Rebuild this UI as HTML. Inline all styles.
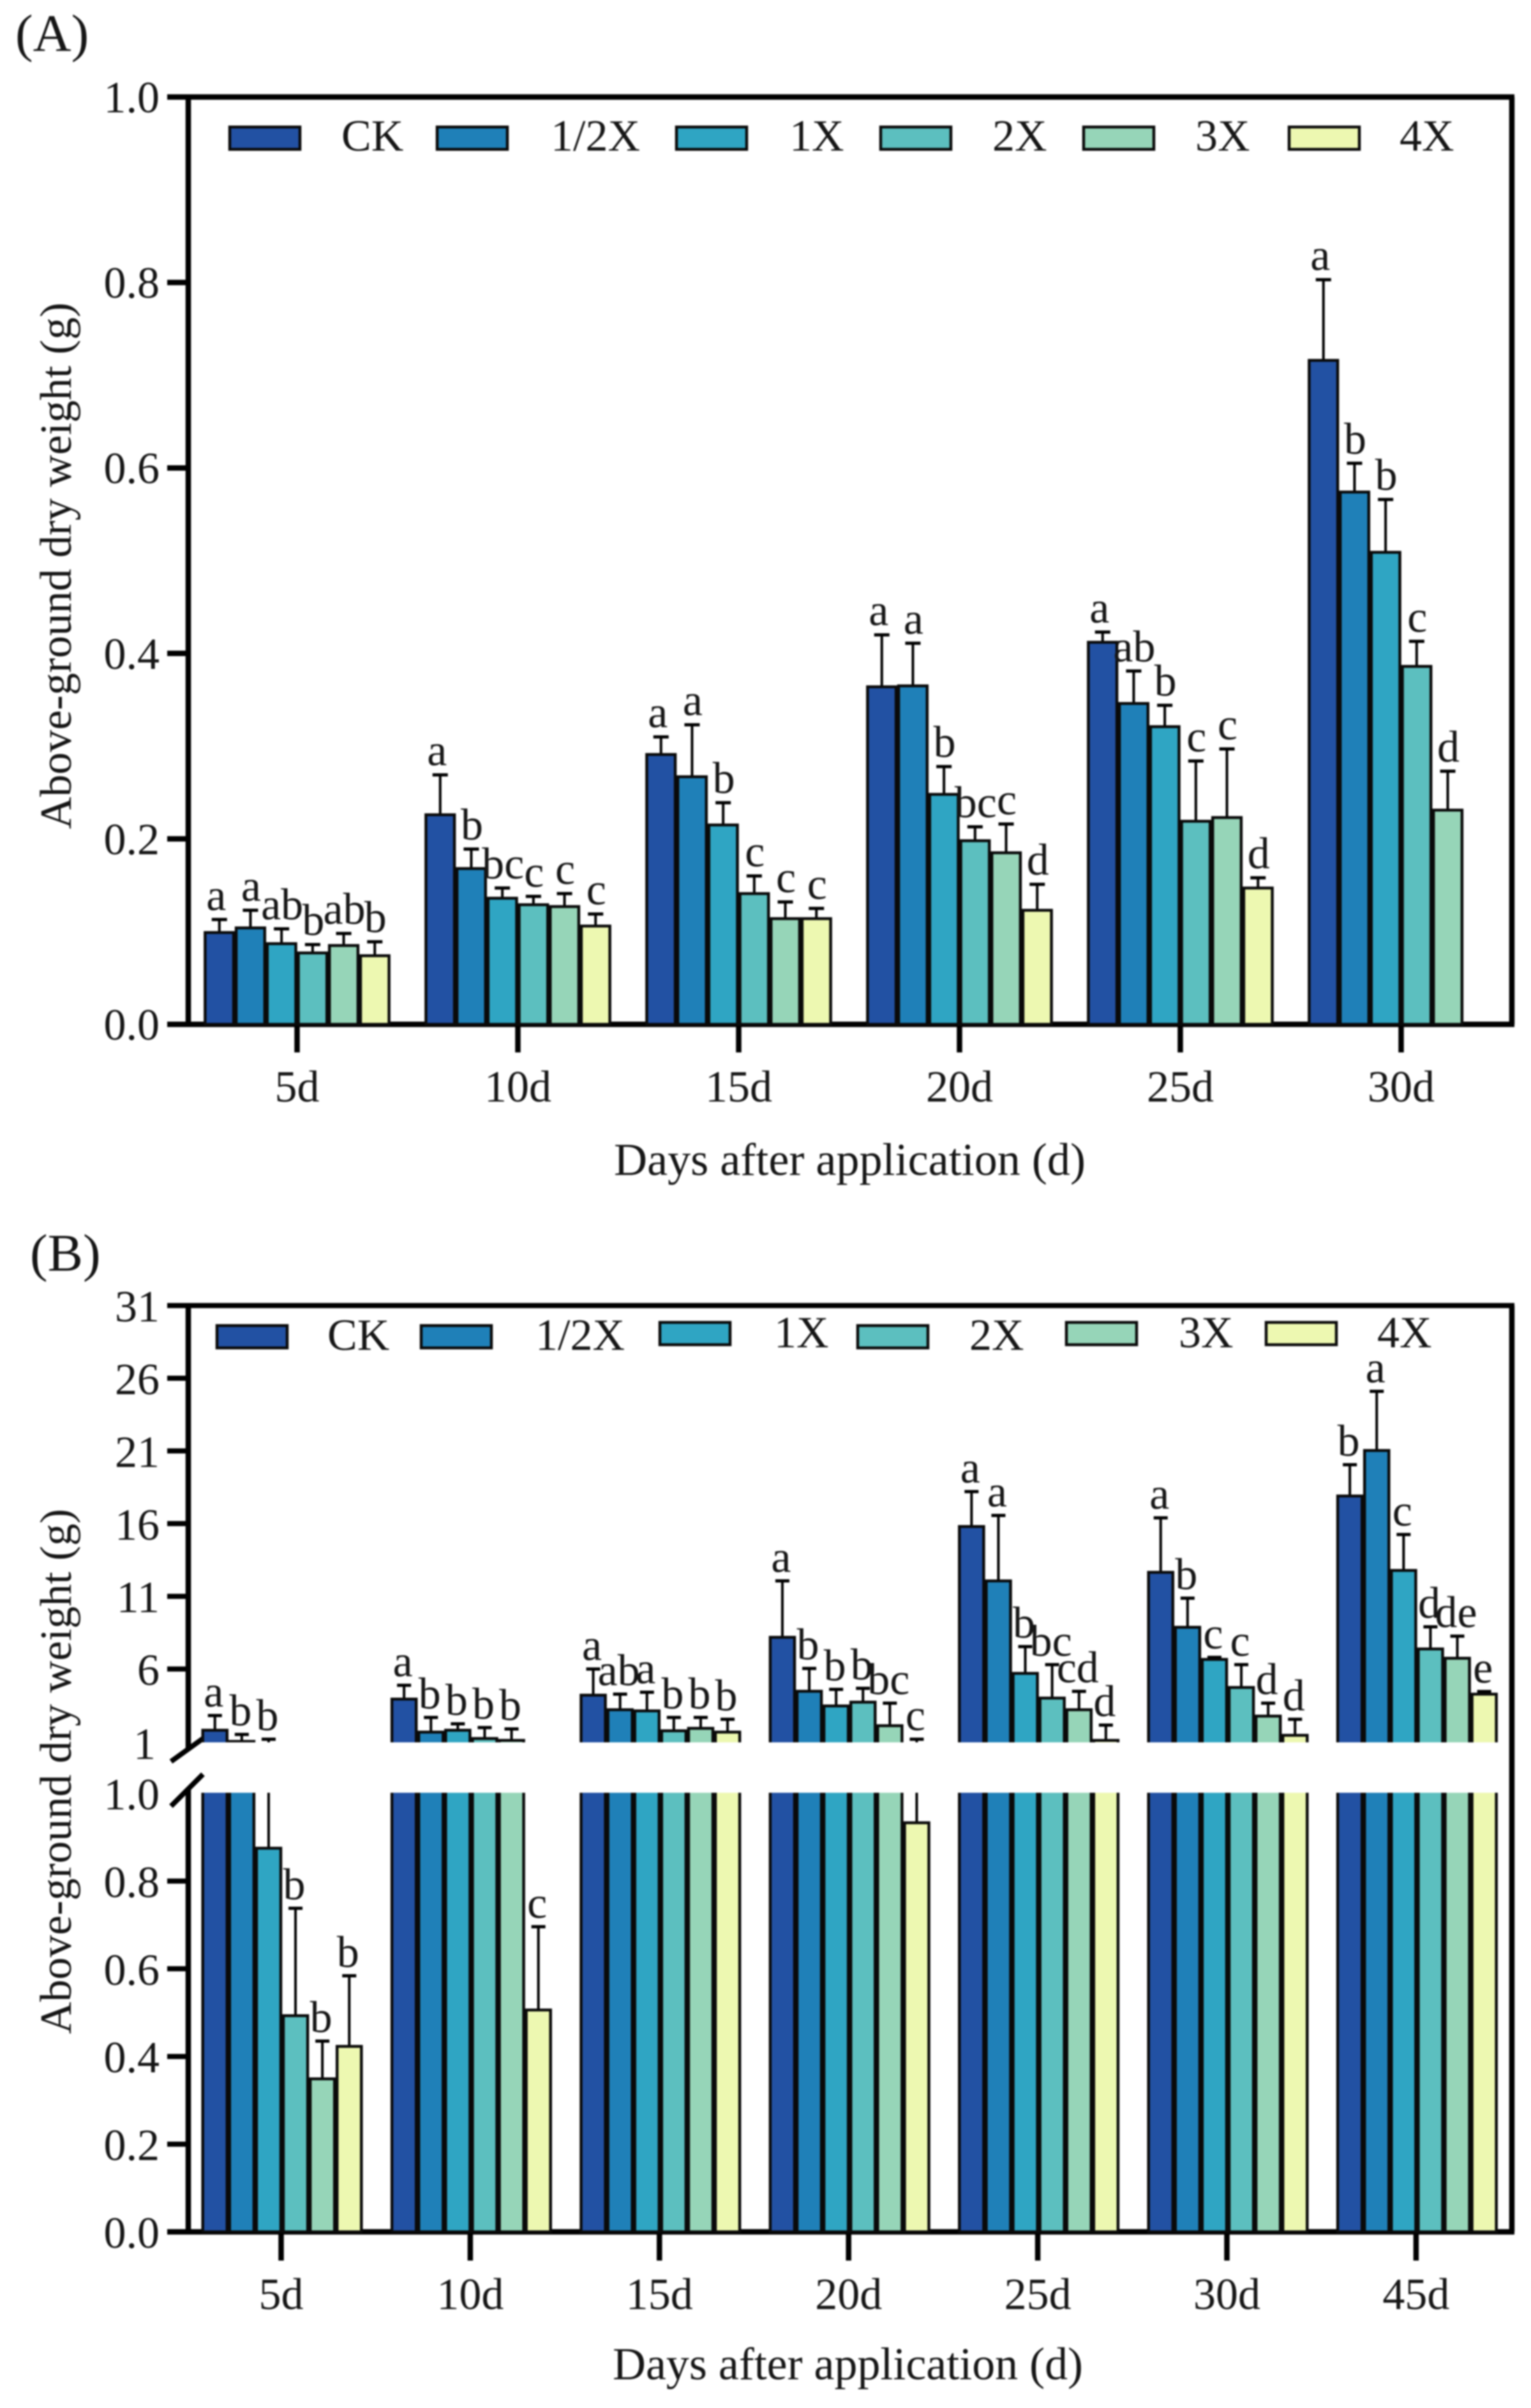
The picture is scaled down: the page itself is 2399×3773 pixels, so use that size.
<!DOCTYPE html>
<html lang="en">
<head>
<meta charset="utf-8">
<title>Above-ground dry weight bar charts</title>
<style>
html,body{margin:0;padding:0;background:#fff;}
#figure{display:block;filter:blur(1.3px);}
text{font-family:"Liberation Serif",serif;fill:#161616;font-size:70px;}
.sw{stroke:#0a0a0a;stroke-width:4.5;}
</style>
</head>
<body>
<svg id="figure" xmlns="http://www.w3.org/2000/svg" width="2399" height="3773" viewBox="0 0 2399 3773">
<rect x="0" y="0" width="2399" height="3773" fill="#fff"/>
<defs>
<clipPath id="clip-upper"><rect x="296" y="2040" width="2070" height="690"/></clipPath>
<clipPath id="clip-lower"><rect x="296" y="2809" width="2070" height="690"/></clipPath>
</defs>

<text x="24" y="80" style="font-size:83px">(A)</text>
<g id="panel-a"></g>
<text x="962" y="1841" textLength="739" lengthAdjust="spacingAndGlyphs" style="font-size:72px">Days after application (d)</text>
<text transform="translate(111,1299) rotate(-90)" x="0" y="0" textLength="825" lengthAdjust="spacingAndGlyphs">Above-ground dry weight (g)</text>
<g>
<g><rect class="sw" x="360" y="199" width="110" height="35" fill="#2251a3"/><text x="535" y="236">CK</text></g>
<g><rect class="sw" x="685" y="199" width="110" height="35" fill="#1f80b8"/><text x="863" y="236">1/2X</text></g>
<g><rect class="sw" x="1060" y="199" width="110" height="35" fill="#2fa5c3"/><text x="1237" y="236">1X</text></g>
<g><rect class="sw" x="1380" y="199" width="110" height="35" fill="#5cbfbf"/><text x="1555" y="236">2X</text></g>
<g><rect class="sw" x="1698" y="199" width="110" height="35" fill="#96d5b8"/><text x="1873" y="236">3X</text></g>
<g><rect class="sw" x="2020" y="199" width="110" height="35" fill="#edf8b1"/><text x="2193" y="236">4X</text></g>
</g>

<text x="47" y="1991" style="font-size:83px">(B)</text>
<g id="panel-b"></g>
<text x="960" y="3728" textLength="737" lengthAdjust="spacingAndGlyphs" style="font-size:72px">Days after application (d)</text>
<text transform="translate(111,3187) rotate(-90)" x="0" y="0" textLength="823" lengthAdjust="spacingAndGlyphs">Above-ground dry weight (g)</text>
<g>
<g><rect class="sw" x="340" y="2077" width="110" height="35" fill="#2251a3"/><text x="513" y="2115">CK</text></g>
<g><rect class="sw" x="660" y="2077" width="110" height="35" fill="#1f80b8"/><text x="839" y="2115">1/2X</text></g>
<g><rect class="sw" x="1034" y="2072" width="110" height="35" fill="#2fa5c3"/><text x="1213" y="2111">1X</text></g>
<g><rect class="sw" x="1344" y="2077" width="110" height="35" fill="#5cbfbf"/><text x="1519" y="2115">2X</text></g>
<g><rect class="sw" x="1671" y="2072" width="110" height="35" fill="#96d5b8"/><text x="1847" y="2111">3X</text></g>
<g><rect class="sw" x="1984" y="2072" width="110" height="35" fill="#edf8b1"/><text x="2158" y="2111">4X</text></g>
</g>
</svg>

<script>
// ---------- shared ----------
const seriesKeys = ['ck', 'half-x', '1x', '2x', '3x', '4x'];
const seriesColors = ['#2251a3', '#1f80b8', '#2fa5c3', '#5cbfbf', '#96d5b8', '#edf8b1'];

// ---------- panel A data ----------
const categoriesA = ['5d', '10d', '15d', '20d', '25d', '30d'];
const ticksA = [0, 0.2, 0.4, 0.6, 0.8, 1.0];
const meanA_CK  = [0.099, 0.226, 0.291, 0.364, 0.412, 0.716];
const meanA_H   = [0.104, 0.168, 0.267, 0.365, 0.346, 0.574];
const meanA_1X  = [0.087, 0.136, 0.215, 0.248, 0.321, 0.509];
const meanA_2X  = [0.077, 0.129, 0.141, 0.198, 0.219, 0.386];
const meanA_3X  = [0.085, 0.127, 0.114, 0.185, 0.223, 0.231];
const meanA_4X  = [0.074, 0.106, 0.114, 0.123, 0.147, null];
const errA_CK = [0.014, 0.043, 0.019, 0.056, 0.011, 0.087];
const errA_H  = [0.019, 0.021, 0.056, 0.046, 0.035, 0.031];
const errA_1X = [0.016, 0.011, 0.024, 0.030, 0.023, 0.057];
const errA_2X = [0.009, 0.009, 0.019, 0.015, 0.065, 0.027];
const errA_3X = [0.013, 0.014, 0.018, 0.031, 0.074, 0.042];
const errA_4X = [0.015, 0.013, 0.011, 0.028, 0.011, null];
const lettersA_CK = ['a', 'a', 'a', 'a', 'a', 'a'];
const lettersA_H  = ['a', 'b', 'a', 'a', 'ab', 'b'];
const lettersA_1X = ['ab', 'bc', 'b', 'b', 'b', 'b'];
const lettersA_2X = ['b', 'c', 'c', 'bc', 'c', 'c'];
const lettersA_3X = ['ab', 'c', 'c', 'c', 'c', 'd'];
const lettersA_4X = ['b', 'c', 'c', 'd', 'd', ''];

// ---------- panel B data ----------
const categoriesB = ['5d', '10d', '15d', '20d', '25d', '30d', '45d'];
const ticksBUpper = [6, 11, 16, 21, 26, 31];
const tickLabelBreakUpper = [1];
const ticksBLower = [0, 0.2, 0.4, 0.6, 0.8, 1.0];
const meanB_CK = [1.79, 3.93, 4.2, 8.18, 15.8, 12.65, 17.9];
const meanB_H  = [1.02, 1.66, 3.2, 4.47, 12.06, 8.87, 21.03];
const meanB_1X = [0.875, 1.79, 3.12, 3.46, 5.7, 6.66, 12.78];
const meanB_2X = [0.493, 1.22, 1.75, 3.72, 4.0, 4.73, 7.38];
const meanB_3X = [0.349, 1.09, 1.92, 2.1, 3.2, 2.76, 6.74];
const meanB_4X = [0.423, 0.506, 1.66, 0.933, 1.09, 1.44, 4.27];
const errB_CK = [1.01, 0.95, 1.8, 3.88, 2.4, 3.75, 2.15];
const errB_H  = [0.48, 1.01, 1.07, 1.57, 4.5, 2.0, 4.07];
const errB_1X = [0.295, 0.44, 1.28, 1.14, 1.84, 0.14, 2.47];
const errB_2X = [0.245, 0.75, 0.92, 0.95, 2.3, 1.57, 1.52];
const errB_3X = [0.086, 0.79, 0.75, 1.55, 1.26, 0.89, 1.52];
const errB_4X = [0.161, 0.19, 0.88, 0.237, 1.05, 1.1, 0.18];
const lettersB_CK = ['a', 'a', 'a', 'a', 'a', 'a', 'b'];
const lettersB_H  = ['b', 'b', 'ab', 'b', 'a', 'b', 'a'];
const lettersB_1X = ['b', 'b', 'a', 'b', 'b', 'c', 'c'];
const lettersB_2X = ['b', 'b', 'b', 'b', 'bc', 'c', 'd'];
const lettersB_3X = ['b', 'b', 'b', 'bc', 'cd', 'd', 'de'];
const lettersB_4X = ['b', 'c', 'b', 'c', 'd', 'd', 'e'];

const meansA = [meanA_CK, meanA_H, meanA_1X, meanA_2X, meanA_3X, meanA_4X];
const errsA = [errA_CK, errA_H, errA_1X, errA_2X, errA_3X, errA_4X];
const lettersA = [lettersA_CK, lettersA_H, lettersA_1X, lettersA_2X, lettersA_3X, lettersA_4X];
const meansB = [meanB_CK, meanB_H, meanB_1X, meanB_2X, meanB_3X, meanB_4X];
const errsB = [errB_CK, errB_H, errB_1X, errB_2X, errB_3X, errB_4X];
const lettersB = [lettersB_CK, lettersB_H, lettersB_1X, lettersB_2X, lettersB_3X, lettersB_4X];

// ---------- helpers ----------
const NS = 'http://www.w3.org/2000/svg';
function make(parent, tag, props) {
  const el = document.createElementNS(NS, tag);
  for (const k in props) el.setAttribute(k, props[k]);
  parent.appendChild(el);
  return el;
}
function hline(parent, x1, x2, y, w) {
  return make(parent, 'line', {x1: x1, x2: x2, y1: y, y2: y, stroke: '#000', 'stroke-width': w});
}
function vline(parent, x, y1, y2, w) {
  return make(parent, 'line', {x1: x, x2: x, y1: y1, y2: y2, stroke: '#000', 'stroke-width': w});
}

// ---------- panel A axis functions ----------
const yA = v => 1605 - v * 1453;
const xTickA = g => 465.5 + g * 346;
const barStepA = 48.7;
const xBarA = (g, s) => xTickA(g) - 3 * barStepA + s * barStepA;

(function drawA() {
  const root = document.getElementById('panel-a');
  const frame = make(root, 'g', {});
  
  

  meansA.forEach((series, s) => {
    series.forEach((v, g) => {
      if (v === null) return;
      const bx = xBarA(g, s);
      const top = yA(v + errsA[s][g]);
      const stem = vline(root, bx + barStepA / 2, yA(v), top, 4);
      
      
      const cap = hline(root, bx + barStepA / 2 - 12, bx + barStepA / 2 + 12, top, 5);
      
      
      const bar = make(root, 'rect', {x: bx + 2, y: yA(v), width: barStepA - 4, height: yA(0) - yA(v), fill: seriesColors[s], stroke: '#0a0a0a', 'stroke-width': 4.5});
      
      
      const lab = make(root, 'text', {x: bx + barStepA / 2 + (s === 0 ? -5 : 1), y: top - 15, 'text-anchor': 'middle'});
      lab.textContent = lettersA[s][g];
      
      
    });
  });

  hline(frame, 262, 2373, yA(1), 8.5);
  vline(frame, 2369, yA(1), yA(0), 8.5);
  vline(frame, 295, yA(1), yA(0) + 4, 8.5);
  hline(frame, 262, 2373, yA(0), 8.5);

  ticksA.forEach(t => {
    if (t > 0 && t < 1) {
      const tick = hline(frame, 262, 295, yA(t), 8.5);
      
      
    }
    const label = make(root, 'text', {x: 250, y: yA(t) + 24, 'text-anchor': 'end'});
    label.textContent = t.toFixed(1);
    
    
  });
  categoriesA.forEach((c, g) => {
    const tick = vline(frame, xTickA(g), yA(0), 1649, 8.5);
    
    
    const label = make(root, 'text', {x: xTickA(g), y: 1726, 'text-anchor': 'middle'});
    label.textContent = c;
    
    
  });
})();

// ---------- panel B axis functions (broken axis) ----------
const yBLower = v => 3497 - v * 687;
const yBUpper = v => 2729 - (v - 1) * 22.78;
const xTickB = g => 440.5 + g * 296.4;
const barStepB = 42.1;
const xBarB = (g, s) => xTickB(g) - 3 * barStepB + s * barStepB + 1.5;

(function drawB() {
  const root = document.getElementById('panel-b');
  const frame = make(root, 'g', {});
  
  
  const lower = make(root, 'g', {'clip-path': 'url(#clip-lower)'});
  
  
  const upper = make(root, 'g', {'clip-path': 'url(#clip-upper)'});
  
  

  meansB.forEach((series, s) => {
    series.forEach((v, g) => {
      const bx = xBarB(g, s);
      const cx = bx + barStepB / 2;
      const top = v + errsB[s][g];
      const topIsUpper = top > 1;
      const capY = topIsUpper ? yBUpper(top) : yBLower(top);
      if (v < 1) {
        const stemL = vline(lower, cx, yBLower(v), topIsUpper ? 2800 : capY, 4);
        
        
      }
      if (topIsUpper) {
        const stemU = vline(upper, cx, v > 1 ? yBUpper(v) : 2735, capY, 4);
        
        
      }
      const cap = hline(topIsUpper ? upper : lower, cx - 11, cx + 11, capY, 5);
      
      

      const lowTop = v < 1 ? yBLower(v) : yBLower(1) - 12;
      const barL = make(lower, 'rect', {x: bx + 2, y: lowTop, width: barStepB - 4, height: yBLower(0) - lowTop, fill: seriesColors[s], stroke: '#0a0a0a', 'stroke-width': 4.5});
      
      
      if (v > 1) {
        const barU = make(upper, 'rect', {x: bx + 2, y: yBUpper(v), width: barStepB - 4, height: yBUpper(1) + 12 - yBUpper(v), fill: seriesColors[s], stroke: '#0a0a0a', 'stroke-width': 4.5});
        
        
      }
      const lab = make(root, 'text', {x: cx - 2, y: capY - 14, 'text-anchor': 'middle'});
      lab.textContent = lettersB[s][g];
      
      
    });
  });

  hline(frame, 262, 2373, yBUpper(31), 8);
  vline(frame, 2369, yBUpper(31), yBLower(0), 8.5);
  vline(frame, 295, yBUpper(31), 2742, 8.5);
  vline(frame, 295, 2804, yBLower(0) + 4, 8.5);
  hline(frame, 262, 2373, yBLower(0), 8.5);
  const slash1 = make(frame, 'line', {x1: 268, y1: 2760, x2: 318, y2: 2724, stroke: '#000', 'stroke-width': 8});
  
  
  const slash2 = make(frame, 'line', {x1: 268, y1: 2830, x2: 318, y2: 2780, stroke: '#000', 'stroke-width': 8});
  
  

  ticksBUpper.forEach(t => {
    if (t < 31) {
      const tick = hline(frame, 262, 295, yBUpper(t), 8);
      
      
    }
    const label = make(root, 'text', {x: 250, y: yBUpper(t) + 25, 'text-anchor': 'end'});
    label.textContent = t;
    
    
  });
  tickLabelBreakUpper.forEach(t => {
    const label = make(root, 'text', {x: 244, y: yBUpper(t) + 27, 'text-anchor': 'end'});
    label.textContent = t;
    
    
  });
  ticksBLower.forEach(t => {
    if (t > 0 && t < 1) {
      const tick = hline(frame, 262, 295, yBLower(t), 8);
      
      
    }
    const label = make(root, 'text', {x: 250, y: yBLower(t) + 25, 'text-anchor': 'end'});
    label.textContent = t.toFixed(1);
    
    
  });
  categoriesB.forEach((c, g) => {
    const tick = vline(frame, xTickB(g), yBLower(0), 3542, 8.5);
    
    
    const label = make(root, 'text', {x: xTickB(g), y: 3618, 'text-anchor': 'middle'});
    label.textContent = c;
    
    
  });
})();
</script>
</body>
</html>
